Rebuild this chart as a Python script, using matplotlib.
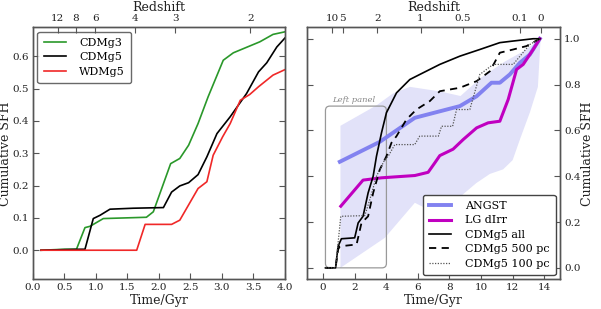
import matplotlib
matplotlib.use("Agg")
import matplotlib.pyplot as plt
from matplotlib.patches import FancyBboxPatch

plt.rcParams['font.family'] = ['DejaVu Serif']
plt.rcParams['mathtext.fontset'] = 'dejavuserif'

# ---------------- Left panel data ----------------
g3_t = [0.127, 0.508, 0.69, 0.825, 0.905, 1.116, 1.80, 1.91, 2.185, 2.33, 2.47, 2.62, 2.78, 3.02, 3.18, 3.60, 3.81, 4.0]
g3_v = [0.0, 0.003, 0.003, 0.070, 0.074, 0.098, 0.102, 0.119, 0.268, 0.284, 0.325, 0.392, 0.475, 0.588, 0.611, 0.645, 0.668, 0.676]

g5_t = [0.127, 0.746, 0.825, 0.957, 1.063, 1.222, 1.59, 2.07, 2.20, 2.33, 2.47, 2.62, 2.76, 2.92, 3.13, 3.39, 3.58, 3.71, 3.87, 4.0]
g5_v = [0.0, 0.003, 0.003, 0.098, 0.108, 0.127, 0.130, 0.132, 0.180, 0.199, 0.209, 0.234, 0.289, 0.361, 0.413, 0.485, 0.552, 0.580, 0.629, 0.657]

w5_t = [0.127, 1.646, 1.78, 2.20, 2.33, 2.62, 2.76, 2.86, 3.01, 3.13, 3.29, 3.44, 3.58, 3.81, 4.0]
w5_v = [0.0, 0.0, 0.080, 0.080, 0.093, 0.191, 0.212, 0.294, 0.351, 0.392, 0.464, 0.482, 0.506, 0.542, 0.559]

left_z_labels = ["12", "8", "6", "4", "3", "2"]
left_z_times = [0.39, 0.68, 0.99, 1.62, 2.26, 3.45]

# ---------------- Right panel data ----------------
angst_t = [1.06, 3.59, 5.49, 5.81, 8.66, 9.72, 10.66, 11.19, 11.82, 12.46, 13.09, 13.72]
angst_v = [0.463, 0.550, 0.640, 0.655, 0.706, 0.749, 0.808, 0.808, 0.844, 0.895, 0.931, 1.0]

band_up_t = [1.1, 3.4, 4.4, 5.5, 7.4, 8.7, 10.0, 11.5, 12.8, 13.77]
band_up_v = [0.62, 0.71, 0.76, 0.79, 0.77, 0.75, 0.83, 0.90, 0.95, 1.0]
band_lo_t = [1.1, 3.91, 5.81, 7.07, 8.5, 9.7, 10.56, 11.4, 12.0, 12.46, 13.1, 13.6, 13.77]
band_lo_v = [0.0, 0.131, 0.284, 0.24, 0.30, 0.37, 0.41, 0.43, 0.47, 0.56, 0.68, 0.79, 1.0]

lg_t = [1.12, 2.53, 3.7, 5.81, 6.65, 7.07, 7.39, 8.23, 8.87, 9.72, 10.45, 11.19, 11.72, 12.25, 12.67, 13.3, 13.72]
lg_v = [0.269, 0.383, 0.393, 0.403, 0.417, 0.458, 0.490, 0.518, 0.560, 0.611, 0.633, 0.640, 0.735, 0.866, 0.888, 0.953, 1.0]

all_t = [0.15, 0.79, 0.95, 1.16, 2.0, 2.22, 2.53, 2.85, 3.17, 3.38, 3.7, 4.01, 4.65, 5.49, 6.12, 7.39, 8.66, 9.92, 11.19, 12.03, 13.3, 13.72]
all_v = [0.0, 0.0, 0.094, 0.127, 0.131, 0.196, 0.225, 0.327, 0.400, 0.487, 0.590, 0.677, 0.764, 0.822, 0.844, 0.888, 0.924, 0.953, 0.983, 0.990, 1.0, 1.0]

p500_t = [0.15, 0.79, 0.95, 1.06, 2.12, 2.43, 2.85, 3.17, 3.59, 4.01, 4.33, 4.65, 5.28, 5.91, 6.76, 7.39, 8.66, 9.72, 10.56, 11.19, 12.03, 12.88, 13.72]
p500_v = [0.0, 0.0, 0.08, 0.094, 0.102, 0.196, 0.225, 0.327, 0.429, 0.487, 0.546, 0.575, 0.648, 0.691, 0.728, 0.771, 0.786, 0.815, 0.858, 0.939, 0.953, 0.968, 1.0]

p100_t = [0.15, 0.79, 1.12, 2.64, 2.96, 3.38, 3.91, 4.12, 4.54, 5.8, 6.12, 7.3, 7.5, 8.2, 8.45, 9.29, 9.92, 10.77, 12.03, 13.09, 13.72]
p100_v = [0.0, 0.0, 0.225, 0.228, 0.298, 0.400, 0.473, 0.487, 0.538, 0.538, 0.575, 0.575, 0.618, 0.618, 0.691, 0.691, 0.844, 0.888, 0.888, 0.975, 1.0]

right_z_labels = ["10", "5", "2", "1", "0.5", "0.1", "0"]
right_z_times = [0.57, 1.23, 3.44, 6.17, 8.83, 12.46, 13.77]

spine_col = '#555555'
fs_tick = 7.5
fs_lab = 9

fig = plt.figure(figsize=(6.01, 3.09), dpi=100)
axL = fig.add_axes([0.0549, 0.0961, 0.4193, 0.8156])
axR = fig.add_axes([0.5113, 0.0961, 0.4205, 0.8156])

def style(ax):
    for s in ax.spines.values():
        s.set_color(spine_col)
        s.set_linewidth(1.0)
    ax.tick_params(direction='in', length=4, width=0.8, color=spine_col, labelsize=fs_tick,
                   labelcolor='#222222', pad=3)

# ----- left -----
axL.plot(g3_t, g3_v, color='#2a982a', lw=1.2, label='CDMg3')
axL.plot(g5_t, g5_v, color='black', lw=1.2, label='CDMg5')
axL.plot(w5_t, w5_v, color='#f02828', lw=1.2, label='WDMg5')
axL.set_xlim(0, 4.0)
axL.set_ylim(-0.09, 0.69)
axL.set_xticks([0.0, 0.5, 1.0, 1.5, 2.0, 2.5, 3.0, 3.5, 4.0])
axL.set_yticks([0.0, 0.1, 0.2, 0.3, 0.4, 0.5, 0.6])
style(axL)
axL.tick_params(top=False, right=True)
axL.set_xlabel('Time/Gyr', fontsize=fs_lab, labelpad=1, color='#222222')
axL.set_ylabel('Cumulative SFH', fontsize=fs_lab, color='#222222')
axL.yaxis.set_label_coords(-0.085, 0.5)
legL = axL.legend(loc='upper left', fontsize=8, frameon=True, fancybox=True,
                  handlelength=2.0, borderpad=0.55, labelspacing=0.4, handletextpad=1.2,
                  borderaxespad=0.4)
legL.get_frame().set_edgecolor('#444444')
legL.get_frame().set_linewidth(1.0)

topL = axL.twiny()
topL.set_xlim(axL.get_xlim())
topL.set_xticks(left_z_times)
topL.set_xticklabels(left_z_labels)
style(topL)
topL.set_xlabel('Redshift', fontsize=fs_lab, labelpad=2, color='#222222')

# ----- right -----
band_x = band_up_t + band_lo_t[::-1]
band_y = band_up_v + band_lo_v[::-1]
axR.fill(band_x, band_y, color='#e2e2f9', lw=0, zorder=1)
axR.plot(angst_t, angst_v, color='#8282f0', lw=2.8, label='ANGST', zorder=3)
axR.plot(lg_t, lg_v, color='#c000c0', lw=2.2, label='LG dIrr', zorder=3)
axR.plot(all_t, all_v, color='black', lw=1.2, label='CDMg5 all', zorder=4)
axR.plot(p500_t, p500_v, color='black', lw=1.3, ls=(0, (4, 3)), label='CDMg5 500 pc', zorder=4)
axR.plot(p100_t, p100_v, color='#555555', lw=0.9, ls=(0, (1, 1.2)), label='CDMg5 100 pc', zorder=4)

box = FancyBboxPatch((0.15, 0.0), 3.86, 0.706,
                     boxstyle='round,pad=0,rounding_size=0.28', mutation_aspect=0.07,
                     fc='none', ec='#999999', lw=0.9, zorder=2)
axR.add_patch(box)
axR.text(0.55, 0.725, 'Left panel', fontsize=6, style='italic', color='#888888', zorder=5)

axR.set_xlim(-1, 15)
axR.set_ylim(-0.05, 1.05)
axR.set_xticks([0, 2, 4, 6, 8, 10, 12, 14])
axR.set_yticks([0.0, 0.2, 0.4, 0.6, 0.8, 1.0])
style(axR)
axR.tick_params(top=False, left=True, right=True, labelleft=False, labelright=True)
axR.set_xlabel('Time/Gyr', fontsize=fs_lab, labelpad=1, color='#222222')
axR.yaxis.set_label_position('right')
axR.set_ylabel('Cumulative SFH', fontsize=fs_lab, color='#222222')
axR.yaxis.set_label_coords(1.085, 0.5)
legR = axR.legend(loc='lower right', fontsize=8, frameon=True, fancybox=True,
                  handlelength=2.0, borderpad=0.55, labelspacing=0.4, handletextpad=1.2,
                  borderaxespad=0.4)
legR.get_frame().set_edgecolor('#444444')
legR.get_frame().set_linewidth(1.0)
legR.get_frame().set_alpha(1.0)

topR = axR.twiny()
topR.set_xlim(axR.get_xlim())
topR.set_xticks(right_z_times)
topR.set_xticklabels(right_z_labels)
style(topR)
topR.set_xlabel('Redshift', fontsize=fs_lab, labelpad=2, color='#222222')

fig.savefig('out.png', dpi=100)
